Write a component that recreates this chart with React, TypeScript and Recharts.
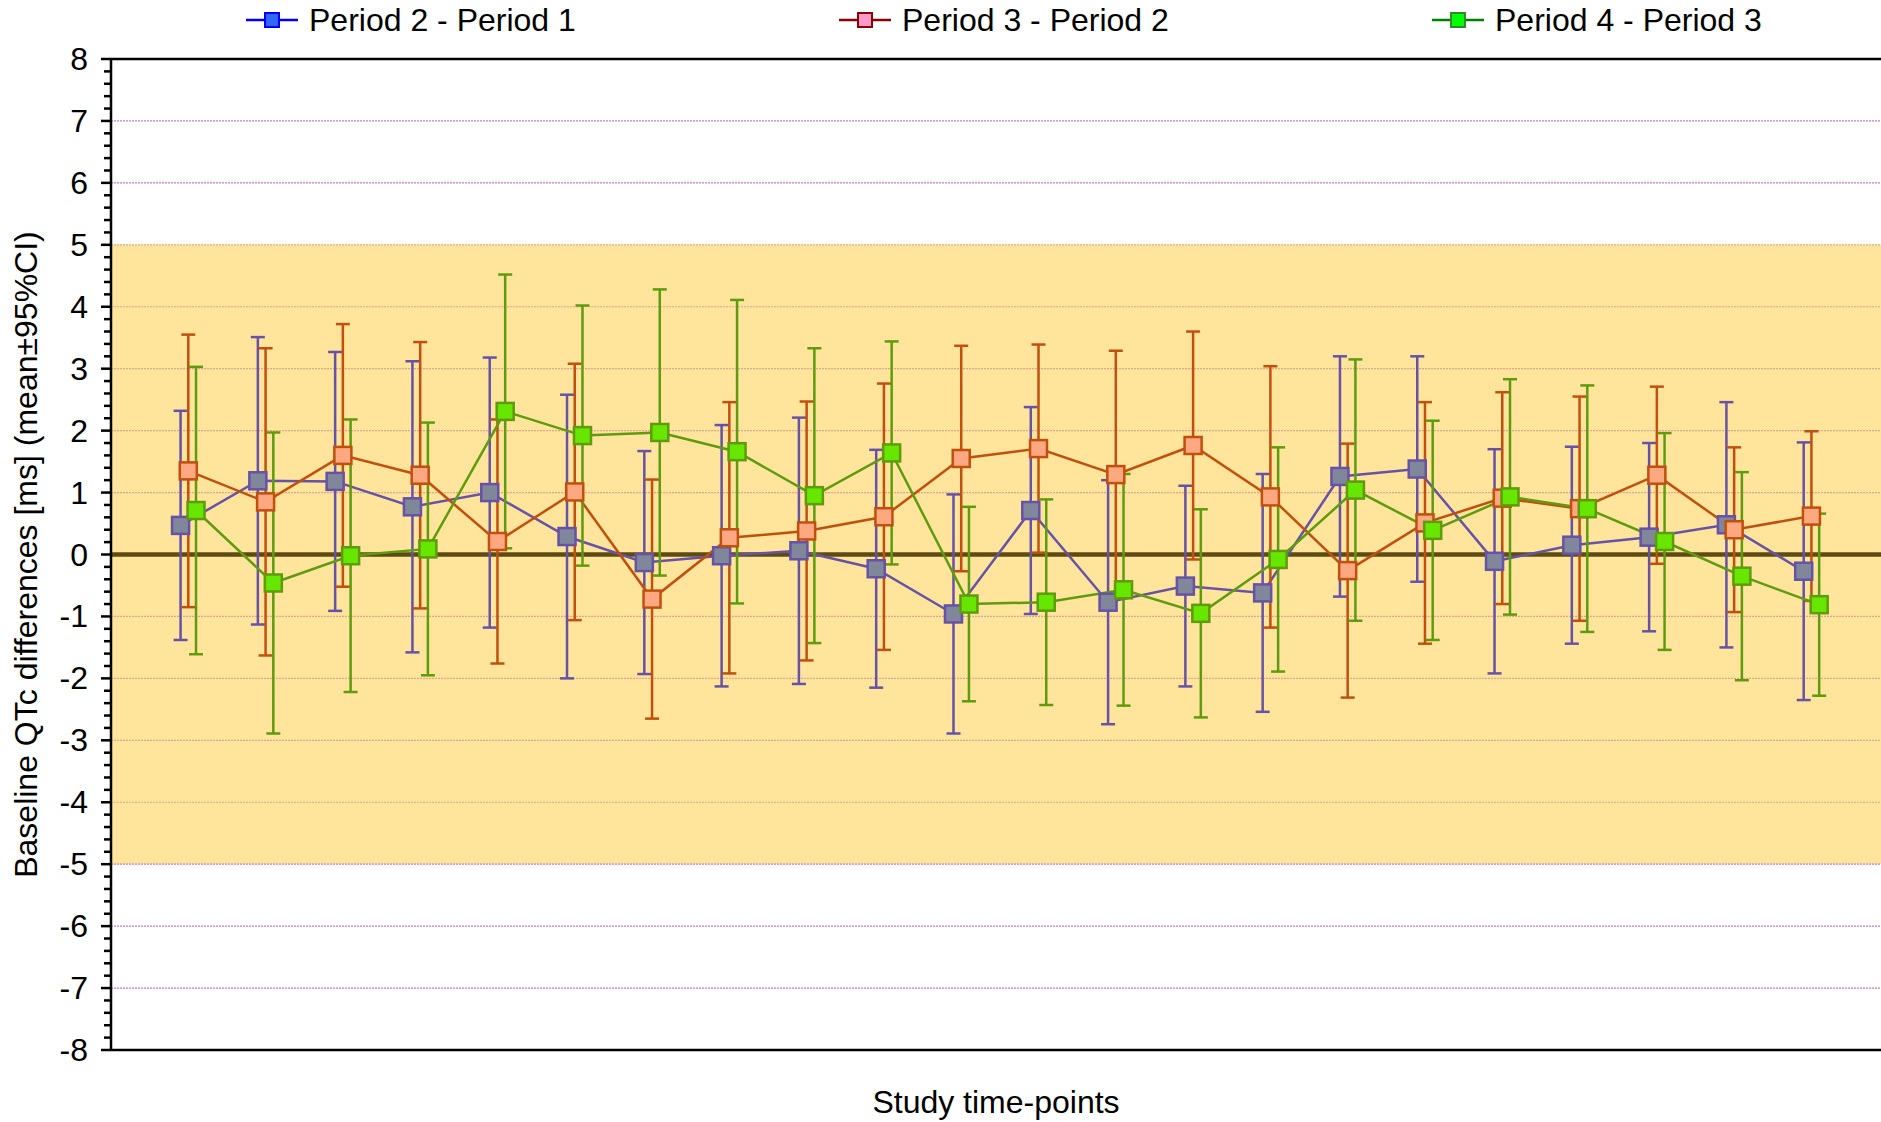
import React from "react"
import {
  ComposedChart, Line, ErrorBar, XAxis, YAxis, ReferenceArea, ReferenceLine, Legend,
} from "recharts"

// study time-points (x positions 1..22, series nudged sideways so bars don't overlap)
const timePoints = [1, 2, 3, 4, 5, 6, 7, 8, 9, 10, 11, 12, 13, 14, 15, 16, 17, 18, 19, 20, 21, 22]

// mean differences and 95% CI half-widths
const p21Mean = [0.47, 1.19, 1.18, 0.77, 1.0, 0.29, -0.13, -0.02, 0.06, -0.23, -0.96, 0.71, -0.77, -0.51, -0.62, 1.26, 1.38, -0.11, 0.15, 0.28, 0.48, -0.27]
const p21Ci = [1.85, 2.32, 2.09, 2.35, 2.18, 2.29, 1.8, 2.11, 2.15, 1.92, 1.93, 1.67, 1.97, 1.62, 1.92, 1.94, 1.82, 1.81, 1.59, 1.52, 1.98, 2.08]

const p32Mean = [1.35, 0.85, 1.6, 1.28, 0.21, 1.01, -0.72, 0.27, 0.38, 0.61, 1.55, 1.71, 1.29, 1.76, 0.93, -0.26, 0.51, 0.91, 0.74, 1.28, 0.4, 0.62]
const p32Ci = [2.2, 2.48, 2.12, 2.15, 1.97, 2.07, 1.93, 2.19, 2.09, 2.15, 1.82, 1.68, 2.0, 1.84, 2.11, 2.05, 1.95, 1.71, 1.81, 1.43, 1.33, 1.37]

const p43Mean = [0.71, -0.46, -0.02, 0.09, 2.31, 1.92, 1.97, 1.66, 0.95, 1.64, -0.8, -0.77, -0.57, -0.95, -0.08, 1.04, 0.39, 0.93, 0.74, 0.21, -0.35, -0.81]
const p43Ci = [2.32, 2.43, 2.2, 2.04, 2.21, 2.1, 2.31, 2.45, 2.38, 1.8, 1.57, 1.66, 1.87, 1.68, 1.81, 2.11, 1.77, 1.9, 1.99, 1.75, 1.68, 1.47]

const yTickLabels = [-8, -7, -6, -5, -4, -3, -2, -1, 0, 1, 2, 3, 4, 5, 6, 7, 8]
const gridLevels = [-7, -6, -5, -4, -3, -2, -1, 1, 2, 3, 4, 5, 6, 7]

const FONT = '"Liberation Sans", Arial, Helvetica, sans-serif'
const FS = 32

// major ticks every 1, minor every 0.2
const minorTicks = yTickLabels.slice(0, -1).flatMap((v) => [0, 0.2, 0.4, 0.6, 0.8].map((d) => Math.round((v + d) * 10) / 10)).concat([8])

const rows = (mean: number[], ci: number[], shift: number) =>
  timePoints.map((t, i) => ({ x: t + shift, y: mean[i], err: ci[i] }))

const series = [
  {
    name: "Period 2 - Period 1", data: rows(p21Mean, p21Ci, -0.1),
    line: "#6652A6", fill: "#80879B",
    legendLine: "#0000FF", legendFill: "#3366FF", legendEdge: "#0000FF",
  },
  {
    name: "Period 3 - Period 2", data: rows(p32Mean, p32Ci, 0),
    line: "#C1500E", fill: "#FDA880",
    legendLine: "#8B0000", legendFill: "#FF99CC", legendEdge: "#8B0000",
  },
  {
    name: "Period 4 - Period 3", data: rows(p43Mean, p43Ci, 0.1),
    line: "#5E9B0E", fill: "#66E600",
    legendLine: "#008000", legendFill: "#00FF00", legendEdge: "#2E8B2E",
  },
]

const squareDot = (fill: string, stroke: string) => (props: any) => {
  const { cx, cy, index } = props
  if (cx == null || cy == null) return <g key={`e-${index}`} />
  return (
    <rect key={`d-${index}`} x={cx - 8.5} y={cy - 8.5} width={17} height={17}
          fill={fill} stroke={stroke} strokeWidth={2.5} />
  )
}

function YTick({ x, y, payload }: any) {
  const v = payload.value as number
  const major = Math.abs(v - Math.round(v)) < 1e-6
  return (
    <g>
      <line x1={x - (major ? 10 : 7)} x2={x} y1={y} y2={y} stroke="#000" strokeWidth={2.5} />
      {major && (
        <text x={x - 23} y={y} textAnchor="end" dominantBaseline="central"
              fontSize={FS} fill="#000" fontFamily={FONT}>
          {Math.round(v)}
        </text>
      )}
    </g>
  )
}

function LegendBox() {
  return (
    <div style={{ display: "flex", paddingLeft: 246, height: 40, alignItems: "center", fontFamily: FONT }}>
      {series.map((s) => (
        <div key={s.name} style={{ flex: "0 0 593px", display: "flex", alignItems: "center" }}>
          <svg width={52} height={30}>
            <line x1={0} x2={52} y1={15} y2={15} stroke={s.legendLine} strokeWidth={2.5} />
            <rect x={19} y={8} width={14} height={14} fill={s.legendFill} stroke={s.legendEdge} strokeWidth={2} />
          </svg>
          <span style={{ marginLeft: 11, fontSize: FS, color: "#000", lineHeight: "38px", whiteSpace: "nowrap" }}>{s.name}</span>
        </div>
      ))}
    </div>
  )
}

export default function App() {
  return (
    <div style={{ width: 1881, height: 1122, fontFamily: FONT, overflow: "hidden" }}>
      <style>{"body{margin:0}"}</style>
      <ComposedChart width={1881} height={1122} margin={{ top: 19, right: 0, bottom: 0, left: 0 }}>
        <Legend verticalAlign="top" height={40} wrapperStyle={{ top: 0, left: 0 }} content={<LegendBox />} />
        <XAxis
          type="number" dataKey="x" domain={[0, 22.9]} allowDataOverflow
          tick={false} tickLine={false} height={72}
          axisLine={{ stroke: "#000", strokeWidth: 2.5 }}
          label={(p: any) => {
            const vb = p.viewBox
            return (
              <text x={vb.x + vb.width / 2} y={1102} textAnchor="middle" dominantBaseline="central"
                    fontSize={FS} fill="#000" fontFamily={FONT}>
                Study time-points
              </text>
            )
          }}
        />
        <YAxis
          type="number" domain={[-8, 8]} ticks={minorTicks} interval={0} width={111}
          tickLine={false} tickSize={0} tickMargin={0} tick={<YTick />}
          axisLine={{ stroke: "#000", strokeWidth: 2.5 }}
          label={(p: any) => {
            const vb = p.viewBox
            const cy = vb.y + vb.height / 2
            return (
              <text x={26} y={cy} transform={`rotate(-90 26 ${cy})`} textAnchor="middle"
                    dominantBaseline="central" fontSize={FS} fill="#000" fontFamily={FONT}>
                Baseline QTc differences [ms] (mean±95%CI)
              </text>
            )
          }}
        />
        <ReferenceArea y1={-5} y2={5} fill="#FFE49C" fillOpacity={1} stroke="none" />
        {gridLevels.map((v) => (
          <ReferenceLine key={v} y={v}
                         stroke={v >= -4 && v <= 5 ? "#E3A48C" : "#C77BCB"}
                         strokeDasharray="2 1" strokeWidth={1.2} />
        ))}
        <ReferenceLine y={8} stroke="#000" strokeWidth={2.5} />
        <ReferenceLine y={0} stroke="#5E4B12" strokeWidth={4.5} />
        {series.map((s) => (
          <Line
            key={s.name} data={s.data} dataKey="y" name={s.name} type="linear"
            stroke={s.line} strokeWidth={2.5} isAnimationActive={false}
            dot={squareDot(s.fill, s.line)} activeDot={false}
          >
            <ErrorBar dataKey="err" width={7} stroke={s.line} strokeWidth={2.5} direction="y" />
          </Line>
        ))}
      </ComposedChart>
    </div>
  )
}
